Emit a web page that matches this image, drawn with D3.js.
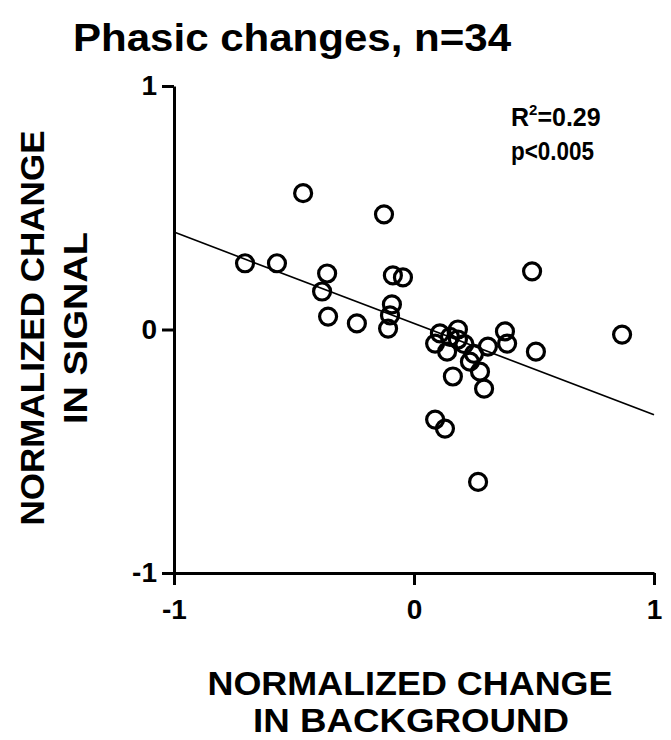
<!DOCTYPE html>
<html>
<head>
<meta charset="utf-8">
<script src="https://cdn.jsdelivr.net/npm/d3@7"></script>
<style>
  body { margin: 0; background: #fff; }
  svg { display: block; }
  text { font-family: "Liberation Sans", Arial, sans-serif; font-weight: bold; fill: #000; }
</style>
</head>
<body>
<div id="chart"></div>
<script>

// background change (x) and signal change (y)
const bgChange = [-0.704, -0.571, -0.462, -0.362, -0.383, -0.358, -0.238, -0.125,
  -0.088, -0.046, -0.092, -0.100, -0.108, 0.108, 0.088, 0.138, 0.183, 0.183,
  0.233, 0.275, 0.308, 0.379, 0.388, 0.508, 0.162, 0.292, 0.088, 0.129,
  0.267, 0.492, 0.867, 0.150, 0.250, 0.210]
const sigChange = [0.272, 0.272, 0.560, 0.230, 0.156, 0.053, 0.025, 0.473,
  0.222, 0.214, 0.103, 0.058, 0.004, -0.016, -0.058, -0.091, 0.000, -0.041,
  -0.132, -0.173, -0.070, -0.008, -0.058, -0.091, -0.193, -0.243, -0.370, -0.407,
  -0.626, 0.239, -0.021, -0.030, -0.100, -0.060]

// fitted line
const fitSlope = -0.375
const fitIntercept = 0.025

const xTicks = [-1, 0, 1]
const yTicks = [-1, 0, 1]

function scatter() {

    var width = 671;
    var height = 740;

    var svg = d3.select("#chart").append("svg")
        .attr("width", width)
        .attr("height", height)

    var x = d3.scaleLinear().domain([-1, 1]).range([174, 654])
    var y = d3.scaleLinear().domain([-1, 1]).range([573, 86])

    // plain hyphen for negatives, like the original
    const fmt = d => String(d)

    // title
    svg.append("text")
        .attr("x", 73).attr("y", 51)
        .attr("font-size", 38)
        .attr("textLength", 438)
        .attr("lengthAdjust", "spacingAndGlyphs")
        .text("Phasic changes, n=34")

    // axes
    const xAxis = svg.append("g")
        .attr("transform", `translate(0,${y(-1)})`)
        .call(d3.axisBottom(x).tickValues(xTicks).tickSize(12).tickSizeOuter(0).tickFormat(fmt))
    const yAxis = svg.append("g")
        .attr("transform", `translate(${x(-1)},0)`)
        .call(d3.axisLeft(y).tickValues(yTicks).tickSize(12).tickSizeOuter(0).tickFormat(fmt))

    svg.selectAll(".domain").attr("stroke", "#000").attr("stroke-width", 3)
    svg.selectAll(".tick line").attr("stroke", "#000").attr("stroke-width", 3)
    svg.selectAll(".tick text")
        .attr("font-family", "Liberation Sans, Arial, sans-serif")
        .attr("font-weight", "bold")
        .attr("font-size", 28)
        .attr("fill", "#000")
    xAxis.selectAll(".tick text").attr("y", 26)
    yAxis.selectAll(".tick text").attr("x", -17)

    // regression line
    svg.append("line")
        .attr("x1", x(-1)).attr("y1", y(fitSlope * -1 + fitIntercept))
        .attr("x2", x(1)).attr("y2", y(fitSlope * 1 + fitIntercept))
        .attr("stroke", "#000")
        .attr("stroke-width", 1.6)

    // points
    svg.selectAll("circle")
        .data(d3.zip(bgChange, sigChange))
        .enter()
        .append("circle")
        .attr("cx", d => x(d[0]))
        .attr("cy", d => y(d[1]))
        .attr("r", 8.5)
        .attr("fill", "none")
        .attr("stroke", "#000")
        .attr("stroke-width", 3.2)

    // stats
    const stats = svg.append("text")
        .attr("x", 511).attr("y", 126)
        .attr("font-size", 25)
    stats.append("tspan").text("R")
    stats.append("tspan").attr("dy", -11).attr("font-size", 15).text("2")
    stats.append("tspan").attr("dy", 11).text("=0.29")
    svg.append("text")
        .attr("x", 511).attr("y", 160)
        .attr("font-size", 25)
        .attr("textLength", 83)
        .attr("lengthAdjust", "spacingAndGlyphs")
        .text("p<0.005")

    // axis titles
    const xl = svg.append("text")
        .attr("text-anchor", "middle")
        .attr("font-size", 33)
    xl.append("tspan").attr("x", 410).attr("y", 695).attr("textLength", 405).attr("lengthAdjust", "spacingAndGlyphs").text("NORMALIZED CHANGE")
    xl.append("tspan").attr("x", 411).attr("y", 732).attr("textLength", 316).attr("lengthAdjust", "spacingAndGlyphs").text("IN BACKGROUND")

    const yl = svg.append("g")
        .attr("transform", "translate(0,328) rotate(-90)")
    yl.append("text")
        .attr("x", 0).attr("y", 44)
        .attr("text-anchor", "middle")
        .attr("font-size", 34)
        .attr("textLength", 395)
        .attr("lengthAdjust", "spacingAndGlyphs")
        .text("NORMALIZED CHANGE")
    yl.append("text")
        .attr("x", 0).attr("y", 87)
        .attr("text-anchor", "middle")
        .attr("font-size", 34)
        .attr("textLength", 192)
        .attr("lengthAdjust", "spacingAndGlyphs")
        .text("IN SIGNAL")
}

scatter()
</script>
</body>
</html>
